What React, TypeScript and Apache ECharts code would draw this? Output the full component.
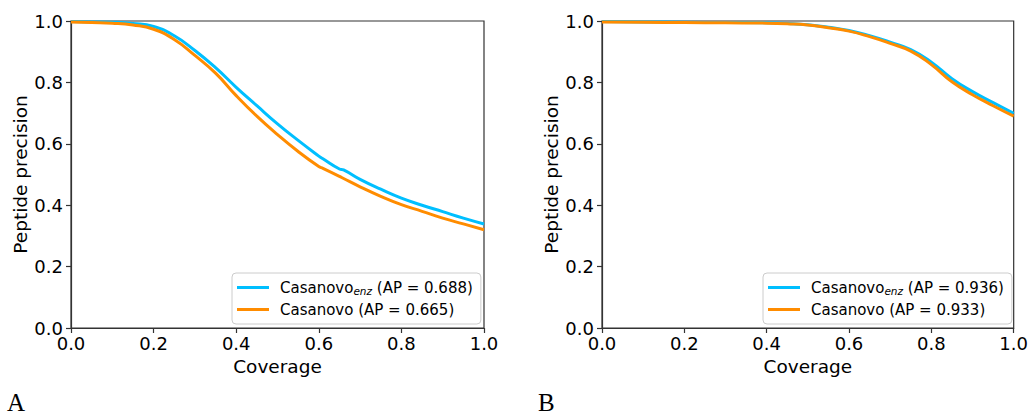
import React, { useEffect, useRef } from "react";
import * as echarts from "echarts";

// Panel A data
const coverageA = [0, 0.05, 0.1, 0.15, 0.2, 0.25, 0.3, 0.35, 0.4, 0.45, 0.5, 0.55, 0.6, 0.61, 0.65, 0.66, 0.7, 0.75, 0.8, 0.85, 0.9, 0.95, 1.0];
const enzA = [0.998, 0.997, 0.996, 0.992, 0.982, 0.952, 0.904, 0.848, 0.784, 0.724, 0.665, 0.611, 0.560, 0.551, 0.518, 0.515, 0.484, 0.452, 0.423, 0.400, 0.379, 0.358, 0.339];
const baseA = [0.997, 0.995, 0.993, 0.987, 0.973, 0.940, 0.888, 0.830, 0.757, 0.690, 0.630, 0.575, 0.526, 0.520, 0.494, 0.487, 0.460, 0.429, 0.402, 0.380, 0.358, 0.339, 0.320];

// Panel B data
const coverageB = [0, 0.1, 0.2, 0.3, 0.4, 0.45, 0.5, 0.55, 0.6, 0.65, 0.7, 0.75, 0.8, 0.85, 0.9, 0.95, 1.0];
const enzB = [0.998, 0.997, 0.996, 0.995, 0.994, 0.992, 0.988, 0.980, 0.969, 0.952, 0.931, 0.907, 0.866, 0.812, 0.770, 0.734, 0.699];
const baseB = [0.997, 0.996, 0.995, 0.994, 0.993, 0.991, 0.987, 0.978, 0.967, 0.949, 0.927, 0.902, 0.858, 0.802, 0.760, 0.724, 0.690];

const legendA = ["Casanovo_enz (AP = 0.688)", "Casanovo (AP = 0.665)"];
const legendB = ["Casanovo_enz (AP = 0.936)", "Casanovo (AP = 0.933)"];
const tickValues = [0, 0.2, 0.4, 0.6, 0.8, 1.0];
const panelLabels = ["A", "B"];

const BLUE = "#00BFFF";
const ORANGE = "#FF8C00";
const FONT = "DejaVu Sans";
const AXIS = "#333";

const pairs = (xs: number[], ys: number[]) => xs.map((x, i) => [x, ys[i]]);

export default function App() {
  const ref = useRef<HTMLDivElement>(null);
  useEffect(() => {
    if (!ref.current) return;
    const chart = echarts.init(ref.current, undefined, { renderer: "svg" });
    const grids = [
      { left: 71, top: 21, width: 413, height: 307 },
      { left: 602, top: 21, width: 414, height: 307 },
    ];
    const mkX = (gi: number) => ({
      type: "value",
      gridIndex: gi,
      min: tickValues[0],
      max: tickValues[tickValues.length - 1],
      interval: 0.2,
      name: "Coverage",
      nameLocation: "middle",
      nameGap: 27,
      nameTextStyle: { fontSize: 18.5, color: "#000", fontFamily: FONT },
      axisLine: { show: true, lineStyle: { color: AXIS, width: 1.2 } },
      axisTick: { show: true, inside: false, length: 5, lineStyle: { color: AXIS, width: 1.2 } },
      axisLabel: { fontSize: 18, color: "#000", fontFamily: FONT, margin: 6, formatter: (v: number) => v.toFixed(1), showMinLabel: true, showMaxLabel: true },
      splitLine: { show: false },
    });
    const mkY = (gi: number) => ({
      type: "value",
      gridIndex: gi,
      min: tickValues[0],
      max: tickValues[tickValues.length - 1],
      interval: 0.2,
      name: "Peptide precision",
      nameLocation: "middle",
      nameGap: 40,
      nameTextStyle: { fontSize: 18.5, color: "#000", fontFamily: FONT },
      axisLine: { show: true, lineStyle: { color: AXIS, width: 1.2 } },
      axisTick: { show: true, inside: false, length: 5, lineStyle: { color: AXIS, width: 1.2 } },
      axisLabel: { fontSize: 18, color: "#000", fontFamily: FONT, margin: 8, formatter: (v: number) => v.toFixed(1), showMinLabel: true, showMaxLabel: true },
      splitLine: { show: false },
    });
    const mkSeries = (name: string, xs: number[], ys: number[], gi: number, color: string) => ({
      type: "line",
      name,
      xAxisIndex: gi,
      yAxisIndex: gi,
      data: pairs(xs, ys),
      showSymbol: false,
      smooth: 0.5,
      lineStyle: { color, width: 3 },
      itemStyle: { color },
      z: color === ORANGE ? 3 : 2,
    });
    const mkLegend = (data: string[], left: number) => ({
      show: true,
      orient: "vertical",
      left,
      top: 273,
      padding: [6, 8, 6, 5],
      itemGap: 5,
      itemWidth: 32,
      itemHeight: 3,
      icon: "rect",
      data,
      backgroundColor: "rgba(255,255,255,0.85)",
      borderColor: "#cccccc",
      borderWidth: 1,
      borderRadius: 4,
      formatter: (name: string) => name.replace("_enz", "{sub|enz}"),
      textStyle: {
        fontSize: 15,
        fontFamily: FONT,
        color: "#000",
        lineHeight: 17,
        padding: [0, 0, 0, 6],
        rich: {
          sub: { fontSize: 10.5, fontStyle: "italic", fontFamily: FONT, color: "#000", lineHeight: 10, verticalAlign: "bottom" },
        },
      },
    });
    chart.setOption({
      animation: false,
      backgroundColor: "#fff",
      grid: grids.map((g) => ({ ...g, show: true, borderColor: AXIS, borderWidth: 1.2, backgroundColor: "transparent", containLabel: false })),
      xAxis: [mkX(0), mkX(1)],
      yAxis: [mkY(0), mkY(1)],
      legend: [mkLegend(legendA, 232), mkLegend(legendB, 763)],
      series: [
        mkSeries(legendA[0], coverageA, enzA, 0, BLUE),
        mkSeries(legendA[1], coverageA, baseA, 0, ORANGE),
        mkSeries(legendB[0], coverageB, enzB, 1, BLUE),
        mkSeries(legendB[1], coverageB, baseB, 1, ORANGE),
      ],
      graphic: [
        { type: "text", left: 7, top: 390, style: { text: panelLabels[0], fontSize: 25, fontFamily: "Liberation Serif", fill: "#000" } },
        { type: "text", left: 538, top: 390, style: { text: panelLabels[1], fontSize: 25, fontFamily: "Liberation Serif", fill: "#000" } },
      ],
    });
    return () => chart.dispose();
  }, []);
  return <div ref={ref} style={{ position: "absolute", left: 0, top: 0, width: 1031, height: 415 }} />;
}
